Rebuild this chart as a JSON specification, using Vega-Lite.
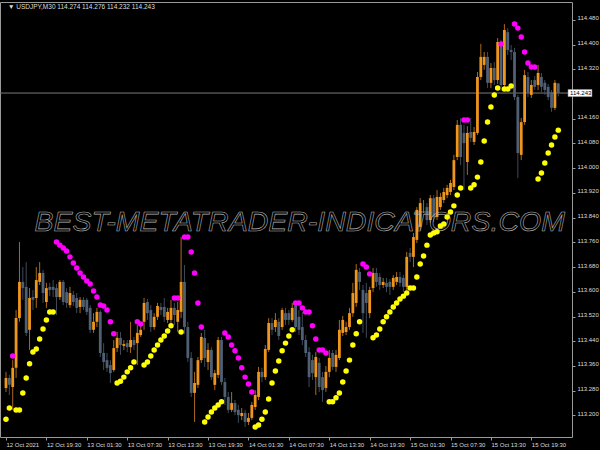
{
  "$schema": "https://vega.github.io/schema/vega-lite/v6.json",
  "width": 572,
  "height": 435,
  "autosize": "none",
  "padding": {"left": 0, "top": 2, "right": 28, "bottom": 13},
  "background": "#000000",
  "config": {
    "view": {"stroke": "#9a9a9a", "strokeWidth": 1},
    "axis": {"grid": false, "domain": false, "tickColor": "#9a9a9a", "labelColor": "#dcdcdc", "labelFont": "Liberation Sans", "labelFontSize": 6, "tickSize": 3, "title": null, "labelOverlap": false, "labelBound": false}
  },
  "datasets": {
    "bars": [
      {"i":0,"o":113.289,"h":113.341,"l":113.276,"c":113.321,"sar":113.188,"t":"buy"},
      {"i":1,"o":113.321,"h":113.331,"l":113.266,"c":113.299,"sar":113.224,"t":"buy"},
      {"i":2,"o":113.292,"h":113.379,"l":113.218,"c":113.354,"sar":113.392,"t":"sell"},
      {"i":3,"o":113.354,"h":113.541,"l":113.321,"c":113.515,"sar":113.218,"t":"buy"},
      {"i":4,"o":113.515,"h":113.761,"l":113.503,"c":113.632,"sar":113.218,"t":"buy"},
      {"i":5,"o":113.632,"h":113.680,"l":113.574,"c":113.612,"sar":113.273,"t":"buy"},
      {"i":6,"o":113.616,"h":113.696,"l":113.457,"c":113.467,"sar":113.321,"t":"buy"},
      {"i":7,"o":113.477,"h":113.612,"l":113.412,"c":113.580,"sar":113.367,"t":"buy"},
      {"i":8,"o":113.583,"h":113.606,"l":113.541,"c":113.574,"sar":113.405,"t":"buy"},
      {"i":9,"o":113.580,"h":113.680,"l":113.548,"c":113.638,"sar":113.415,"t":"buy"},
      {"i":10,"o":113.632,"h":113.696,"l":113.622,"c":113.661,"sar":113.447,"t":"buy"},
      {"i":11,"o":113.661,"h":113.671,"l":113.564,"c":113.596,"sar":113.480,"t":"buy"},
      {"i":12,"o":113.567,"h":113.629,"l":113.548,"c":113.612,"sar":113.509,"t":"buy"},
      {"i":13,"o":113.616,"h":113.629,"l":113.586,"c":113.606,"sar":113.535,"t":"buy"},
      {"i":14,"o":113.616,"h":113.638,"l":113.583,"c":113.606,"sar":113.535,"t":"buy"},
      {"i":15,"o":113.612,"h":113.625,"l":113.525,"c":113.583,"sar":113.761,"t":"sell"},
      {"i":16,"o":113.583,"h":113.638,"l":113.574,"c":113.632,"sar":113.751,"t":"sell"},
      {"i":17,"o":113.632,"h":113.638,"l":113.557,"c":113.567,"sar":113.742,"t":"sell"},
      {"i":18,"o":113.599,"h":113.612,"l":113.548,"c":113.564,"sar":113.732,"t":"sell"},
      {"i":19,"o":113.557,"h":113.616,"l":113.548,"c":113.596,"sar":113.713,"t":"sell"},
      {"i":20,"o":113.590,"h":113.603,"l":113.554,"c":113.567,"sar":113.693,"t":"sell"},
      {"i":21,"o":113.580,"h":113.596,"l":113.531,"c":113.548,"sar":113.677,"t":"sell"},
      {"i":22,"o":113.551,"h":113.583,"l":113.531,"c":113.574,"sar":113.661,"t":"sell"},
      {"i":23,"o":113.574,"h":113.583,"l":113.541,"c":113.551,"sar":113.648,"t":"sell"},
      {"i":24,"o":113.574,"h":113.580,"l":113.525,"c":113.535,"sar":113.635,"t":"sell"},
      {"i":25,"o":113.548,"h":113.557,"l":113.467,"c":113.477,"sar":113.625,"t":"sell"},
      {"i":26,"o":113.477,"h":113.531,"l":113.467,"c":113.503,"sar":113.603,"t":"sell"},
      {"i":27,"o":113.503,"h":113.548,"l":113.486,"c":113.535,"sar":113.583,"t":"sell"},
      {"i":28,"o":113.535,"h":113.541,"l":113.389,"c":113.402,"sar":113.557,"t":"sell"},
      {"i":29,"o":113.402,"h":113.434,"l":113.347,"c":113.373,"sar":113.554,"t":"sell"},
      {"i":30,"o":113.379,"h":113.402,"l":113.341,"c":113.354,"sar":113.541,"t":"sell"},
      {"i":31,"o":113.363,"h":113.379,"l":113.305,"c":113.337,"sar":113.503,"t":"sell"},
      {"i":32,"o":113.347,"h":113.444,"l":113.341,"c":113.418,"sar":113.464,"t":"sell"},
      {"i":33,"o":113.418,"h":113.470,"l":113.405,"c":113.451,"sar":113.305,"t":"buy"},
      {"i":34,"o":113.451,"h":113.470,"l":113.396,"c":113.428,"sar":113.311,"t":"buy"},
      {"i":35,"o":113.425,"h":113.444,"l":113.412,"c":113.431,"sar":113.324,"t":"buy"},
      {"i":36,"o":113.434,"h":113.444,"l":113.405,"c":113.421,"sar":113.341,"t":"buy"},
      {"i":37,"o":113.421,"h":113.503,"l":113.402,"c":113.444,"sar":113.354,"t":"buy"},
      {"i":38,"o":113.444,"h":113.454,"l":113.412,"c":113.428,"sar":113.373,"t":"buy"},
      {"i":39,"o":113.434,"h":113.493,"l":113.363,"c":113.467,"sar":113.503,"t":"sell"},
      {"i":40,"o":113.460,"h":113.490,"l":113.454,"c":113.477,"sar":113.496,"t":"sell"},
      {"i":41,"o":113.503,"h":113.580,"l":113.477,"c":113.564,"sar":113.363,"t":"buy"},
      {"i":42,"o":113.567,"h":113.577,"l":113.509,"c":113.531,"sar":113.373,"t":"buy"},
      {"i":43,"o":113.541,"h":113.557,"l":113.470,"c":113.486,"sar":113.392,"t":"buy"},
      {"i":44,"o":113.486,"h":113.531,"l":113.477,"c":113.519,"sar":113.412,"t":"buy"},
      {"i":45,"o":113.519,"h":113.564,"l":113.509,"c":113.554,"sar":113.428,"t":"buy"},
      {"i":46,"o":113.551,"h":113.564,"l":113.525,"c":113.541,"sar":113.444,"t":"buy"},
      {"i":47,"o":113.551,"h":113.580,"l":113.503,"c":113.519,"sar":113.457,"t":"buy"},
      {"i":48,"o":113.509,"h":113.548,"l":113.499,"c":113.535,"sar":113.473,"t":"buy"},
      {"i":49,"o":113.509,"h":113.574,"l":113.499,"c":113.548,"sar":113.490,"t":"buy"},
      {"i":50,"o":113.548,"h":113.564,"l":113.493,"c":113.525,"sar":113.580,"t":"sell"},
      {"i":51,"o":113.503,"h":113.567,"l":113.470,"c":113.541,"sar":113.580,"t":"sell"},
      {"i":52,"o":113.535,"h":113.777,"l":113.515,"c":113.632,"sar":113.470,"t":"buy"},
      {"i":53,"o":113.632,"h":113.687,"l":113.464,"c":113.486,"sar":113.777,"t":"sell"},
      {"i":54,"o":113.486,"h":113.503,"l":113.373,"c":113.386,"sar":113.777,"t":"sell"},
      {"i":55,"o":113.386,"h":113.405,"l":113.260,"c":113.273,"sar":113.729,"t":"sell"},
      {"i":56,"o":113.273,"h":113.341,"l":113.179,"c":113.305,"sar":113.661,"t":"sell"},
      {"i":57,"o":113.299,"h":113.389,"l":113.289,"c":113.379,"sar":113.564,"t":"sell"},
      {"i":58,"o":113.379,"h":113.467,"l":113.370,"c":113.454,"sar":113.486,"t":"sell"},
      {"i":59,"o":113.451,"h":113.477,"l":113.357,"c":113.386,"sar":113.179,"t":"buy"},
      {"i":60,"o":113.373,"h":113.434,"l":113.347,"c":113.412,"sar":113.195,"t":"buy"},
      {"i":61,"o":113.412,"h":113.421,"l":113.315,"c":113.324,"sar":113.211,"t":"buy"},
      {"i":62,"o":113.299,"h":113.347,"l":113.282,"c":113.337,"sar":113.224,"t":"buy"},
      {"i":63,"o":113.331,"h":113.454,"l":113.321,"c":113.444,"sar":113.234,"t":"buy"},
      {"i":64,"o":113.444,"h":113.454,"l":113.299,"c":113.308,"sar":113.244,"t":"buy"},
      {"i":65,"o":113.308,"h":113.321,"l":113.234,"c":113.260,"sar":113.467,"t":"sell"},
      {"i":66,"o":113.260,"h":113.276,"l":113.208,"c":113.218,"sar":113.454,"t":"sell"},
      {"i":67,"o":113.218,"h":113.276,"l":113.211,"c":113.240,"sar":113.428,"t":"sell"},
      {"i":68,"o":113.240,"h":113.250,"l":113.201,"c":113.211,"sar":113.409,"t":"sell"},
      {"i":69,"o":113.218,"h":113.234,"l":113.176,"c":113.201,"sar":113.386,"t":"sell"},
      {"i":70,"o":113.198,"h":113.224,"l":113.185,"c":113.208,"sar":113.354,"t":"sell"},
      {"i":71,"o":113.208,"h":113.218,"l":113.163,"c":113.179,"sar":113.324,"t":"sell"},
      {"i":72,"o":113.179,"h":113.208,"l":113.169,"c":113.192,"sar":113.302,"t":"sell"},
      {"i":73,"o":113.192,"h":113.244,"l":113.185,"c":113.234,"sar":113.276,"t":"sell"},
      {"i":74,"o":113.227,"h":113.282,"l":113.218,"c":113.266,"sar":113.163,"t":"buy"},
      {"i":75,"o":113.260,"h":113.357,"l":113.250,"c":113.341,"sar":113.169,"t":"buy"},
      {"i":76,"o":113.341,"h":113.354,"l":113.308,"c":113.324,"sar":113.188,"t":"buy"},
      {"i":77,"o":113.324,"h":113.428,"l":113.315,"c":113.415,"sar":113.211,"t":"buy"},
      {"i":78,"o":113.412,"h":113.515,"l":113.405,"c":113.499,"sar":113.253,"t":"buy"},
      {"i":79,"o":113.499,"h":113.515,"l":113.460,"c":113.477,"sar":113.305,"t":"buy"},
      {"i":80,"o":113.486,"h":113.531,"l":113.470,"c":113.509,"sar":113.344,"t":"buy"},
      {"i":81,"o":113.503,"h":113.515,"l":113.444,"c":113.457,"sar":113.376,"t":"buy"},
      {"i":82,"o":113.486,"h":113.548,"l":113.477,"c":113.541,"sar":113.409,"t":"buy"},
      {"i":83,"o":113.531,"h":113.548,"l":113.493,"c":113.509,"sar":113.434,"t":"buy"},
      {"i":84,"o":113.531,"h":113.541,"l":113.493,"c":113.509,"sar":113.457,"t":"buy"},
      {"i":85,"o":113.509,"h":113.564,"l":113.503,"c":113.548,"sar":113.477,"t":"buy"},
      {"i":86,"o":113.557,"h":113.564,"l":113.470,"c":113.486,"sar":113.564,"t":"sell"},
      {"i":87,"o":113.519,"h":113.541,"l":113.460,"c":113.477,"sar":113.564,"t":"sell"},
      {"i":88,"o":113.486,"h":113.535,"l":113.428,"c":113.444,"sar":113.548,"t":"sell"},
      {"i":89,"o":113.444,"h":113.460,"l":113.389,"c":113.402,"sar":113.535,"t":"sell"},
      {"i":90,"o":113.405,"h":113.421,"l":113.292,"c":113.324,"sar":113.535,"t":"sell"},
      {"i":91,"o":113.379,"h":113.396,"l":113.315,"c":113.337,"sar":113.490,"t":"sell"},
      {"i":92,"o":113.324,"h":113.405,"l":113.266,"c":113.389,"sar":113.447,"t":"sell"},
      {"i":93,"o":113.370,"h":113.386,"l":113.276,"c":113.292,"sar":113.412,"t":"sell"},
      {"i":94,"o":113.324,"h":113.341,"l":113.244,"c":113.282,"sar":113.412,"t":"sell"},
      {"i":95,"o":113.289,"h":113.360,"l":113.276,"c":113.341,"sar":113.402,"t":"sell"},
      {"i":96,"o":113.341,"h":113.412,"l":113.324,"c":113.386,"sar":113.244,"t":"buy"},
      {"i":97,"o":113.402,"h":113.412,"l":113.347,"c":113.357,"sar":113.244,"t":"buy"},
      {"i":98,"o":113.357,"h":113.412,"l":113.341,"c":113.396,"sar":113.257,"t":"buy"},
      {"i":99,"o":113.386,"h":113.509,"l":113.379,"c":113.477,"sar":113.273,"t":"buy"},
      {"i":100,"o":113.467,"h":113.522,"l":113.457,"c":113.509,"sar":113.308,"t":"buy"},
      {"i":101,"o":113.470,"h":113.503,"l":113.460,"c":113.486,"sar":113.344,"t":"buy"},
      {"i":102,"o":113.486,"h":113.548,"l":113.477,"c":113.531,"sar":113.379,"t":"buy"},
      {"i":103,"o":113.531,"h":113.629,"l":113.519,"c":113.596,"sar":113.428,"t":"buy"},
      {"i":104,"o":113.564,"h":113.690,"l":113.551,"c":113.671,"sar":113.464,"t":"buy"},
      {"i":105,"o":113.664,"h":113.677,"l":113.606,"c":113.632,"sar":113.503,"t":"buy"},
      {"i":106,"o":113.606,"h":113.622,"l":113.467,"c":113.531,"sar":113.690,"t":"sell"},
      {"i":107,"o":113.596,"h":113.629,"l":113.451,"c":113.564,"sar":113.680,"t":"sell"},
      {"i":108,"o":113.531,"h":113.616,"l":113.515,"c":113.606,"sar":113.658,"t":"sell"},
      {"i":109,"o":113.612,"h":113.677,"l":113.599,"c":113.661,"sar":113.451,"t":"buy"},
      {"i":110,"o":113.661,"h":113.677,"l":113.616,"c":113.632,"sar":113.460,"t":"buy"},
      {"i":111,"o":113.648,"h":113.661,"l":113.606,"c":113.622,"sar":113.480,"t":"buy"},
      {"i":112,"o":113.622,"h":113.645,"l":113.612,"c":113.632,"sar":113.503,"t":"buy"},
      {"i":113,"o":113.629,"h":113.645,"l":113.599,"c":113.616,"sar":113.519,"t":"buy"},
      {"i":114,"o":113.632,"h":113.641,"l":113.590,"c":113.616,"sar":113.535,"t":"buy"},
      {"i":115,"o":113.616,"h":113.654,"l":113.606,"c":113.645,"sar":113.551,"t":"buy"},
      {"i":116,"o":113.632,"h":113.664,"l":113.622,"c":113.648,"sar":113.564,"t":"buy"},
      {"i":117,"o":113.648,"h":113.664,"l":113.616,"c":113.629,"sar":113.577,"t":"buy"},
      {"i":118,"o":113.645,"h":113.654,"l":113.599,"c":113.616,"sar":113.586,"t":"buy"},
      {"i":119,"o":113.616,"h":113.729,"l":113.606,"c":113.713,"sar":113.596,"t":"buy"},
      {"i":120,"o":113.726,"h":113.742,"l":113.696,"c":113.713,"sar":113.612,"t":"buy"},
      {"i":121,"o":113.713,"h":113.790,"l":113.680,"c":113.777,"sar":113.612,"t":"buy"},
      {"i":122,"o":113.768,"h":113.874,"l":113.758,"c":113.865,"sar":113.648,"t":"buy"},
      {"i":123,"o":113.810,"h":113.903,"l":113.800,"c":113.887,"sar":113.690,"t":"buy"},
      {"i":124,"o":113.874,"h":113.897,"l":113.855,"c":113.874,"sar":113.716,"t":"buy"},
      {"i":125,"o":113.874,"h":113.887,"l":113.816,"c":113.832,"sar":113.751,"t":"buy"},
      {"i":126,"o":113.832,"h":113.913,"l":113.823,"c":113.903,"sar":113.784,"t":"buy"},
      {"i":127,"o":113.903,"h":113.913,"l":113.826,"c":113.842,"sar":113.790,"t":"buy"},
      {"i":128,"o":113.842,"h":113.929,"l":113.832,"c":113.907,"sar":113.794,"t":"buy"},
      {"i":129,"o":113.874,"h":113.920,"l":113.865,"c":113.907,"sar":113.813,"t":"buy"},
      {"i":130,"o":113.897,"h":113.936,"l":113.887,"c":113.923,"sar":113.819,"t":"buy"},
      {"i":131,"o":113.913,"h":113.946,"l":113.903,"c":113.936,"sar":113.842,"t":"buy"},
      {"i":132,"o":113.923,"h":113.962,"l":113.913,"c":113.952,"sar":113.858,"t":"buy"},
      {"i":133,"o":113.939,"h":114.043,"l":113.929,"c":114.026,"sar":113.878,"t":"buy"},
      {"i":134,"o":114.036,"h":114.156,"l":114.026,"c":114.140,"sar":113.913,"t":"buy"},
      {"i":135,"o":114.140,"h":114.162,"l":114.010,"c":114.036,"sar":113.936,"t":"buy"},
      {"i":136,"o":114.114,"h":114.140,"l":113.929,"c":114.081,"sar":114.156,"t":"sell"},
      {"i":137,"o":114.020,"h":114.136,"l":113.978,"c":114.114,"sar":114.156,"t":"sell"},
      {"i":138,"o":114.117,"h":114.162,"l":114.085,"c":114.098,"sar":113.936,"t":"buy"},
      {"i":139,"o":114.085,"h":114.133,"l":114.075,"c":114.117,"sar":113.946,"t":"buy"},
      {"i":140,"o":114.114,"h":114.311,"l":114.107,"c":114.295,"sar":113.971,"t":"buy"},
      {"i":141,"o":114.295,"h":114.402,"l":114.285,"c":114.360,"sar":114.020,"t":"buy"},
      {"i":142,"o":114.334,"h":114.376,"l":114.318,"c":114.360,"sar":114.088,"t":"buy"},
      {"i":143,"o":114.360,"h":114.376,"l":114.259,"c":114.276,"sar":114.149,"t":"buy"},
      {"i":144,"o":114.276,"h":114.340,"l":114.259,"c":114.324,"sar":114.198,"t":"buy"},
      {"i":145,"o":114.324,"h":114.343,"l":114.269,"c":114.285,"sar":114.237,"t":"buy"},
      {"i":146,"o":114.285,"h":114.421,"l":114.272,"c":114.408,"sar":114.259,"t":"buy"},
      {"i":147,"o":114.408,"h":114.415,"l":114.250,"c":114.269,"sar":114.402,"t":"sell"},
      {"i":148,"o":114.269,"h":114.466,"l":114.256,"c":114.447,"sar":114.256,"t":"buy"},
      {"i":149,"o":114.440,"h":114.453,"l":114.366,"c":114.382,"sar":114.256,"t":"buy"},
      {"i":150,"o":114.382,"h":114.398,"l":114.350,"c":114.376,"sar":114.266,"t":"buy"},
      {"i":151,"o":114.376,"h":114.389,"l":114.220,"c":114.230,"sar":114.466,"t":"sell"},
      {"i":152,"o":114.230,"h":114.237,"l":113.968,"c":114.049,"sar":114.453,"t":"sell"},
      {"i":153,"o":114.043,"h":114.162,"l":114.026,"c":114.149,"sar":114.424,"t":"sell"},
      {"i":154,"o":114.149,"h":114.318,"l":114.140,"c":114.301,"sar":114.376,"t":"sell"},
      {"i":155,"o":114.295,"h":114.311,"l":114.230,"c":114.243,"sar":114.340,"t":"sell"},
      {"i":156,"o":114.237,"h":114.285,"l":114.227,"c":114.269,"sar":114.327,"t":"sell"},
      {"i":157,"o":114.285,"h":114.298,"l":114.253,"c":114.263,"sar":114.327,"t":"sell"},
      {"i":158,"o":114.269,"h":114.334,"l":114.253,"c":114.308,"sar":113.965,"t":"buy"},
      {"i":159,"o":114.295,"h":114.308,"l":114.246,"c":114.263,"sar":113.984,"t":"buy"},
      {"i":160,"o":114.276,"h":114.285,"l":114.237,"c":114.253,"sar":114.017,"t":"buy"},
      {"i":161,"o":114.263,"h":114.272,"l":114.220,"c":114.230,"sar":114.049,"t":"buy"},
      {"i":162,"o":114.246,"h":114.253,"l":114.182,"c":114.195,"sar":114.075,"t":"buy"},
      {"i":163,"o":114.195,"h":114.285,"l":114.188,"c":114.276,"sar":114.101,"t":"buy"},
      {"i":164,"o":114.274,"h":114.276,"l":114.232,"c":114.243,"sar":114.123,"t":"buy"}
    ],
    "info": [
      {"price": 114.243, "label": "114.243", "header": "▼ USDJPY,M30  114.274 114.276 114.232 114.243", "wm": "BEST-METATRADER-INDICATORS.COM"}
    ]
  },
  "layer": [
    {
      "data": {"name": "info"},
      "mark": {"type": "rule", "color": "#7a7a7a", "strokeWidth": 1},
      "encoding": {
        "y": {"field": "price", "type": "quantitative", "scale": {"domain": [113.1303, 114.5375], "nice": false, "zero": false},
          "axis": {"orient": "right", "values": [113.2,113.28,113.36,113.44,113.52,113.6,113.68,113.76,113.84,113.92,114.0,114.08,114.16,114.32,114.4,114.48], "tickCount": 40, "format": ".3f", "labelAlign": "left", "labelPadding": 2, "labelOffset": -2, "labelOverlap": false, "labelBound": false, "title": null}}
      }
    },
    {
      "data": {"name": "bars"},
      "mark": {"type": "rule", "strokeWidth": 1},
      "encoding": {
        "x": {"field": "i", "type": "quantitative", "scale": {"domain": [-0.2918, 166.59], "nice": false, "zero": false},
          "axis": {"orient": "bottom", "values": [0,12,24,36,48,60,72,84,96,108,120,132,144,156], "tickCount": 40, "labelAlign": "left", "labelBaseline": "top", "labelPadding": 1, "labelOverlap": false, "labelFlush": false, "labelBound": false, "title": null,
            "labelExpr": "datum.value == 0 ? '12 Oct 2021' : timeFormat(datetime(2021, 9, 12, 13, 30 + datum.value * 30), '%d %b %H:%M')"}},
        "y": {"field": "l", "type": "quantitative", "title": null},
        "y2": {"field": "h"},
        "color": {"condition": [{"test": "datum.c > datum.o", "value": "#a86a1c"}, {"test": "datum.c < datum.o", "value": "#3e4a5a"}], "value": "#00c000"}
      }
    },
    {
      "data": {"name": "bars"},
      "mark": {"type": "bar", "size": 2.8},
      "encoding": {
        "x": {"field": "i", "type": "quantitative", "title": null},
        "y": {"field": "o", "type": "quantitative", "title": null},
        "y2": {"field": "c"},
        "color": {"condition": [{"test": "datum.c > datum.o", "value": "#f0961c"}, {"test": "datum.c < datum.o", "value": "#506074"}], "value": "#00c000"}
      }
    },
    {
      "data": {"name": "info"},
      "mark": {"type": "text", "font": "Liberation Sans", "fontStyle": "italic", "fontSize": 28.5, "fillOpacity": 0, "stroke": "#b4b4b4", "strokeWidth": 0.6, "align": "center", "baseline": "middle"},
      "encoding": {
        "x": {"datum": 87.2, "type": "quantitative"},
        "y": {"datum": 113.826, "type": "quantitative"},
        "text": {"field": "wm"}
      }
    },
    {
      "data": {"name": "bars"},
      "mark": {"type": "point", "filled": true, "size": 30, "opacity": 1},
      "encoding": {
        "x": {"field": "i", "type": "quantitative", "title": null},
        "y": {"field": "sar", "type": "quantitative", "title": null},
        "color": {"field": "t", "type": "nominal", "scale": {"domain": ["buy", "sell"], "range": ["#ffff00", "#ff00ff"]}, "legend": null}
      }
    },
    {
      "data": {"name": "info"},
      "mark": {"type": "rect", "fill": "#ffffff", "stroke": "#9a9a9a", "strokeWidth": 0.5},
      "encoding": {
        "x": {"datum": 166.9, "type": "quantitative"},
        "x2": {"datum": 174.0},
        "y": {"datum": 114.2545, "type": "quantitative"},
        "y2": {"datum": 114.2315}
      }
    },
    {
      "data": {"name": "info"},
      "mark": {"type": "text", "font": "Liberation Sans", "fontSize": 6, "color": "#000000", "align": "left", "baseline": "middle"},
      "encoding": {
        "x": {"datum": 167.5, "type": "quantitative"},
        "y": {"field": "price", "type": "quantitative"},
        "text": {"field": "label"}
      }
    },
    {
      "data": {"name": "info"},
      "mark": {"type": "text", "font": "Liberation Sans", "fontSize": 6.5, "color": "#dcdcdc", "align": "left", "baseline": "middle"},
      "encoding": {
        "x": {"datum": 0.6, "type": "quantitative"},
        "y": {"datum": 114.521, "type": "quantitative"},
        "text": {"field": "header"}
      }
    }
  ]
}
